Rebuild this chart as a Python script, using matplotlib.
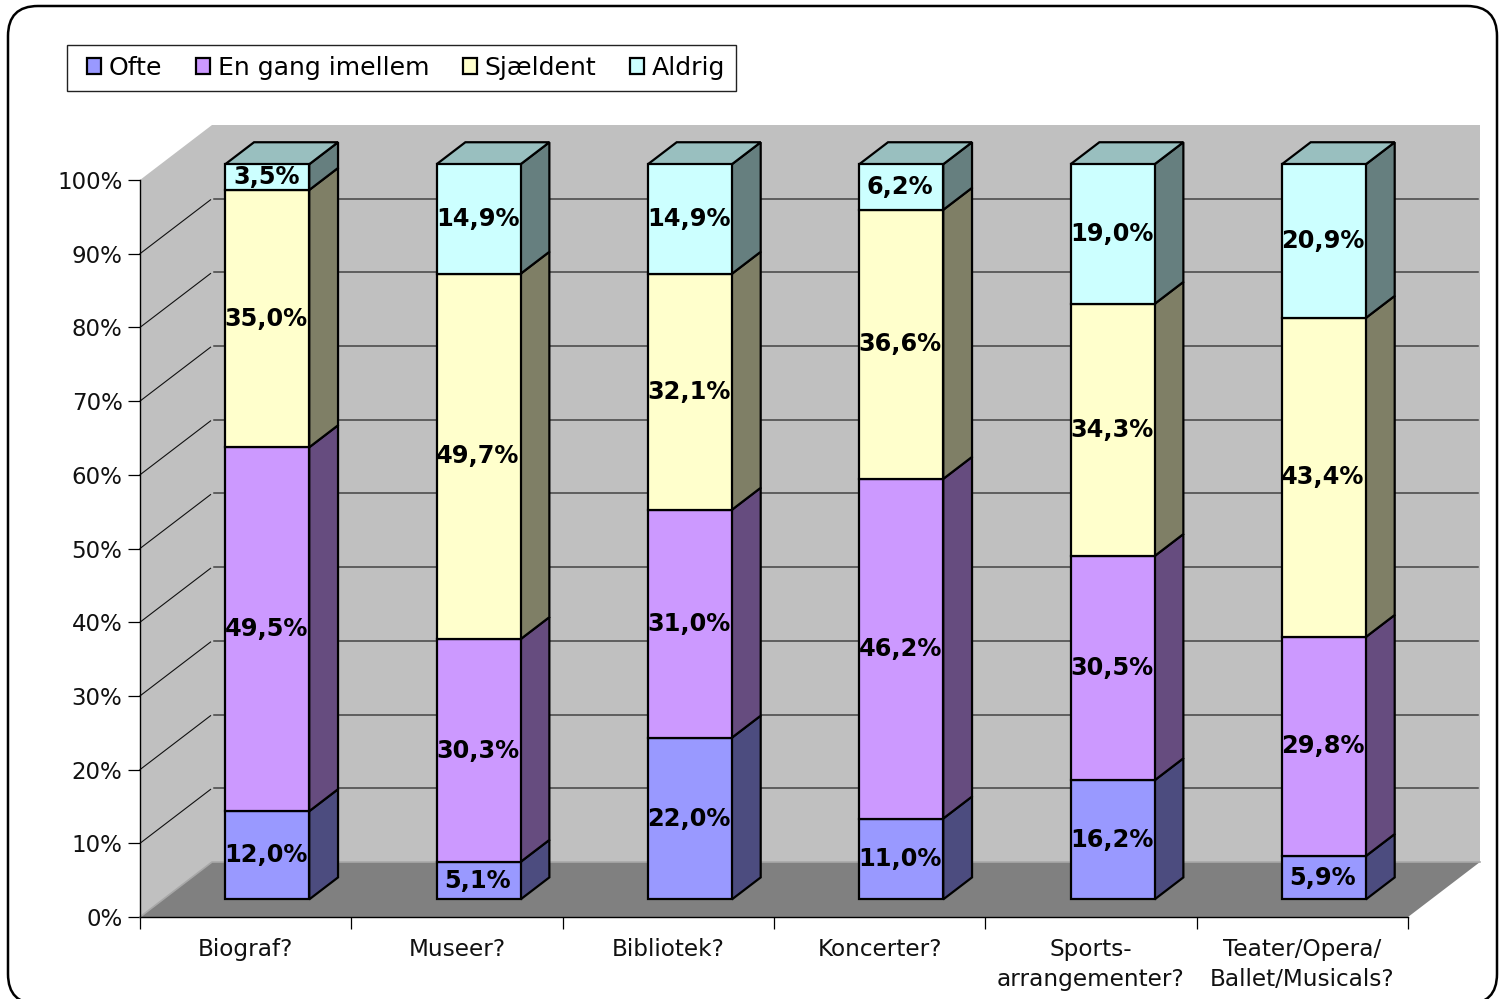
import numpy as np
import matplotlib
matplotlib.use('Agg')
import matplotlib.pyplot as plt
from matplotlib.patches import FancyBboxPatch, Rectangle
from matplotlib.transforms import IdentityTransform

categories = ['Biograf?', 'Museer?', 'Bibliotek?', 'Koncerter?', 'Sports-\narrangementer?', 'Teater/Opera/\nBallet/Musicals?']
ofte = [12.0, 5.1, 22.0, 11.0, 16.2, 5.9]
en_gang = [49.5, 30.3, 31.0, 46.2, 30.5, 29.8]
sjaeldent = [35.0, 49.7, 32.1, 36.6, 34.3, 43.4]
aldrig = [3.5, 14.9, 14.9, 6.2, 19.0, 20.9]
series_names = ['Ofte', 'En gang imellem', 'Sjældent', 'Aldrig']
front_colors = ['#9999FF', '#CC99FF', '#FFFFCC', '#CCFFFF']
side_colors = ['#4C4C7F', '#664C7F', '#7F7F66', '#667F7F']
top_color = '#99BFBF'
y_ticks = list(range(0, 101, 10))

# Depth of the box, in data units (x in categories, y in percent)
DX = 72 / 211.33
DY = 55 / 7.37
D0 = 0.32
D1 = 0.72
BAR_W = 0.3975
BAR_SHIFT = -0.007
# Bars come out slightly shorter than the wall in the 3D view
BAR_SCALE = 0.9975


def proj(x, y, d):
    return x + d * DX, y + d * DY


W, H = 1503, 999
fig = plt.figure(figsize=(W / 100, H / 100), dpi=100)
ax = fig.add_axes([140 / W, (H - 917) / H, 1268 / W, 737 / H])
ax.patch.set_visible(False)
n = len(categories)
ax.set_xlim(0, n)
ax.set_ylim(0, 100)

# Outer rounded frame
fig.add_artist(FancyBboxPatch((8, -5), 1489, 998, boxstyle='round,pad=0,rounding_size=30',
                              transform=IdentityTransform(), fc='white', ec='black', lw=1.8, zorder=-5))

# Walls and floor
xs, ys = zip(proj(0, 0, 0), proj(0, 100, 0), proj(0, 100, 1), proj(n, 100, 1), proj(n, 0, 1), proj(0, 0, 1))
ax.fill(xs, ys, fc='#C0C0C0', ec='none', zorder=1, clip_on=False)
xs, ys = zip(proj(0, 0, 0), proj(n, 0, 0), proj(n, 0, 1), proj(0, 0, 1))
ax.fill(xs, ys, fc='#808080', ec='none', zorder=1.1, clip_on=False)

for t in y_ticks[1:-1]:
    x0, y0 = proj(0, t, 0)
    x1, y1 = proj(0, t, 0.98)
    ax.plot([x0, x1], [y0, y1], color='#111111', lw=0.8, zorder=1.5, clip_on=False)
    x2, y2 = proj(0, t, 1)
    x3, y3 = proj(n, t, 1)
    ax.plot([x2 + 0.01, x3 - 0.01], [y2, y3], color='#444444', lw=1.1, zorder=1.5, clip_on=False)
x0, y0 = proj(0, 0, 0)
x1, y1 = proj(0, 0, 1)
x2, y2 = proj(n, 0, 1)
ax.plot([x0, x1, x2], [y0, y1, y2], color='#A8A8A8', lw=1.2, zorder=1.6, clip_on=False)

# Bars
series = [ofte, en_gang, sjaeldent, aldrig]
centers = np.arange(n) + 0.5 + BAR_SHIFT
handles = []
bottoms = np.zeros(n)
for i, vals in enumerate(series):
    vals = np.array(vals) * BAR_SCALE
    fx, fy = proj(centers, bottoms, D0)
    bars = ax.bar(fx, vals, BAR_W, bottom=fy, color=front_colors[i], edgecolor='black', lw=1.6,
                  zorder=4, clip_on=False, label=series_names[i])
    handles.append(bars)
    for j in range(n):
        left = centers[j] - BAR_W / 2
        right = centers[j] + BAR_W / 2
        lo, hi = bottoms[j], bottoms[j] + vals[j]
        xs, ys = zip(proj(right, lo, D0), proj(right, lo, D1), proj(right, hi, D1), proj(right, hi, D0))
        ax.fill(xs, ys, fc=side_colors[i], ec='black', lw=1.6, zorder=3, clip_on=False)
        if i == len(series) - 1:
            xs, ys = zip(proj(left, hi, D0), proj(left, hi, D1), proj(right, hi, D1), proj(right, hi, D0))
            ax.fill(xs, ys, fc=top_color, ec='black', lw=1.6, zorder=3, clip_on=False)
        tx, ty = proj(centers[j] - 0.005, lo + vals[j] / 2, D0)
        ax.text(tx, ty, f'{series[i][j]:.1f}%'.replace('.', ','), ha='center', va='center', fontsize=17.3,
                fontweight='bold', color='black', zorder=5, clip_on=False)
    bottoms = bottoms + vals

# Axes
for s in ['top', 'right']:
    ax.spines[s].set_visible(False)
for s in ['left', 'bottom']:
    ax.spines[s].set_linewidth(1.0)
    ax.spines[s].set_zorder(2)
ax.set_yticks(y_ticks)
ax.set_yticklabels([f'{t}%' for t in y_ticks], fontsize=16.5, color='#111111')
ax.tick_params(axis='y', length=8.6, width=0.9, pad=4)
ax.set_xticks(np.arange(n + 1))
ax.set_xticklabels([])
ax.tick_params(axis='x', which='major', length=8.6, width=0.9)
ax.set_xticks(np.arange(n) + 0.5, minor=True)
ax.set_xticklabels(categories, minor=True, fontsize=16.7, color='#111111', linespacing=1.4)
ax.tick_params(axis='x', which='minor', length=0, pad=15)

# Legend box is drawn apart, it has more room left and right than top and bottom
fig.add_artist(Rectangle((67, H - 91), 669, 46, transform=IdentityTransform(),
                         fc='white', ec='#222222', lw=1.0, zorder=6))
leg = fig.legend(handles=handles, labels=series_names, ncol=4, loc='center left',
                 bbox_to_anchor=(87 / W, 1 - 68 / H), borderaxespad=0, fontsize=18.1,
                 handlelength=0.56, handleheight=0.56, handletextpad=0.3, columnspacing=1.35,
                 frameon=False, borderpad=0)
leg.set_zorder(7)

plt.savefig('out.png', dpi=100)
plt.close()
